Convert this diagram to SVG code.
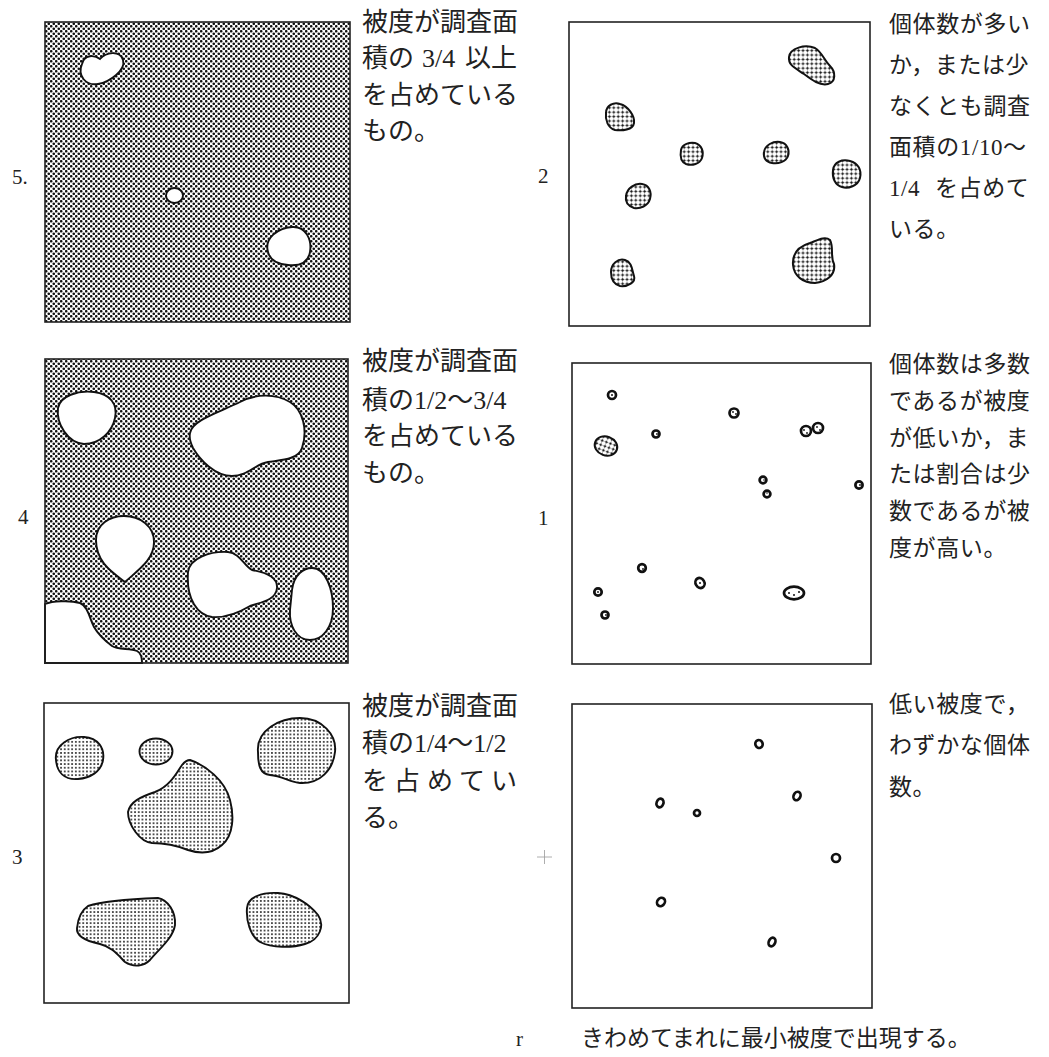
<svg xmlns="http://www.w3.org/2000/svg" width="1049" height="1057" viewBox="0 0 1049 1057">
<defs>
<pattern id="dense" width="5" height="5" patternUnits="userSpaceOnUse"><rect width="5" height="5" fill="#fff"/><circle cx="1.25" cy="1.25" r="1.3" fill="#111"/><circle cx="3.75" cy="3.75" r="1.3" fill="#111"/></pattern>
<pattern id="grid3" width="3.7" height="3.7" patternUnits="userSpaceOnUse"><rect width="3.7" height="3.7" fill="#fff"/><circle cx="1.85" cy="1.85" r="0.95" fill="#111"/></pattern>
<pattern id="grid2" width="4.4" height="4.4" patternUnits="userSpaceOnUse"><rect width="4.4" height="4.4" fill="#fff"/><path d="M0 2.2H4.4M2.2 0V4.4" stroke="#888" stroke-width="0.5"/><circle cx="2.2" cy="2.2" r="1.1" fill="#111"/></pattern>
<style>
.frame{fill:none;stroke:#222;stroke-width:1.6}
.hole{fill:#fff;stroke:#111;stroke-width:1.9}
.blob3{fill:url(#grid3);stroke:#111;stroke-width:1.9}
.blob2{fill:url(#grid2);stroke:#111;stroke-width:2}
.dot{fill:#fff;stroke:#111;stroke-width:2.7}
.in{fill:#111}
.tl{font-family:"Liberation Serif","Noto Sans CJK JP",serif;font-size:26px;fill:#222}
.tr{font-family:"Liberation Serif","Noto Sans CJK JP",serif;font-size:23px;letter-spacing:0.6px;fill:#222}
.num{font-family:"Liberation Serif",serif;font-size:21px;fill:#222}
</style>
</defs>
<rect width="1049" height="1057" fill="#fff"/>

<g id="panel5">
<rect x="45" y="22" width="305" height="300" fill="url(#dense)"/>
<path class="hole" d="M82,64 C84,54 95,55 100,59 C106,52 120,50 123,60 C126,70 110,82 98,84 C86,86 77,76 82,64 Z"/>
<ellipse class="hole" cx="174.5" cy="195.5" rx="8.5" ry="7.5"/>
<path class="hole" d="M268,252 C264,238 278,228 292,227 C306,226 312,240 310,252 C308,264 298,266 288,265 C276,264 270,260 268,252 Z"/>
<rect class="frame" x="45" y="22" width="305" height="300"/>
<text class="num" x="12" y="184">5.</text>
<text class="tl" x="362" y="31">被度が調査面</text>
<text class="tl" y="67"><tspan x="362">積の</tspan><tspan x="422">3/4</tspan><tspan x="465">以上</tspan></text>
<text class="tl" x="362" y="104">を占めている</text>
<text class="tl" x="362" y="140">もの。</text>
</g>

<g id="panel4">
<rect x="45" y="359" width="303" height="304" fill="url(#dense)"/>
<path class="hole" d="M58,408 C60,396 78,390 94,392 C110,394 118,404 115,418 C112,432 100,444 84,444 C68,443 56,424 58,408 Z"/>
<path class="hole" d="M190,433 C192,420 220,412 240,402 C255,394 275,393 290,402 C303,410 308,430 302,448 C298,460 280,460 268,462 C255,464 248,476 232,476 C215,476 200,460 193,448 C190,442 189,438 190,433 Z"/>
<path class="hole" d="M125,582 C112,572 96,562 96,540 C96,524 110,516 124,516 C140,516 154,526 154,542 C154,560 138,570 125,582 Z"/>
<path class="hole" d="M188,572 C190,558 210,551 228,552 C240,553 244,566 252,570 C264,572 278,576 277,588 C276,600 262,602 250,606 C240,612 225,618 212,617 C198,615 186,600 188,572 Z"/>
<path class="hole" d="M292,590 C294,574 304,568 312,568 C326,568 333,590 333,608 C333,628 322,640 310,640 C296,640 289,625 290,610 Z"/>
<path class="hole" d="M45,604 C52,601 70,600 80,603 C88,606 90,620 94,627 C98,634 104,640 112,646 C118,650 130,648 137,651 C141,653 142,658 142,663 L45,663 Z"/>
<rect class="frame" x="45" y="359" width="303" height="304"/>
<text class="num" x="18" y="524">4</text>
<text class="tl" x="362" y="370">被度が調査面</text>
<text class="tl" x="362" y="409">積の1/2〜3/4</text>
<text class="tl" x="362" y="445">を占めている</text>
<text class="tl" x="362" y="482">もの。</text>
</g>

<g id="panel3">
<rect x="44" y="703" width="305" height="300" fill="#fff"/>
<path class="blob3" d="M56,760 C54,745 70,736 84,737 C98,738 105,748 103,760 C101,772 90,778 78,779 C64,780 57,772 56,760 Z"/>
<ellipse class="blob3" cx="156" cy="751.5" rx="16.5" ry="13"/>
<path class="blob3" d="M190,760 C205,765 225,780 230,800 C234,815 234,835 222,845 C212,854 200,854 188,850 C178,846 165,843 152,843 C140,842 128,825 128,812 C130,802 140,797 155,792 C168,787 175,776 180,768 C183,763 186,760 190,760 Z"/>
<path class="blob3" d="M258,752 C256,730 280,718 300,718 C322,718 337,735 335,752 C333,770 320,784 300,783 C290,782 282,776 270,775 C260,774 258,765 258,752 Z"/>
<path class="blob3" d="M88,906 C100,902 130,899 158,898 C168,900 176,912 175,925 C173,938 160,948 150,960 C144,966 134,968 125,962 C118,955 112,947 100,944 C86,941 76,936 77,928 C78,918 82,910 88,906 Z"/>
<path class="blob3" d="M247,908 C248,897 262,892 278,893 C295,894 310,905 318,915 C325,925 320,940 305,944 C292,948 272,948 260,942 C250,936 246,920 247,908 Z"/>
<rect class="frame" x="44" y="703" width="305" height="300"/>
<text class="num" x="12" y="864">3</text>
<text class="tl" x="362" y="715">被度が調査面</text>
<text class="tl" x="362" y="752">積の1/4〜1/2</text>
<text class="tl" x="362 394 427 459 491" y="790">を占めてい</text>
<text class="tl" x="362" y="827">る。</text>
</g>

<g id="panel2">
<rect x="569" y="22" width="301" height="304" fill="#fff"/>
<path class="blob2" d="M789,57 C790,48 805,44 815,48 C822,52 824,60 830,66 C836,72 836,82 828,84 C820,86 812,80 804,74 C795,68 788,65 789,57 Z"/>
<path class="blob2" d="M606,113 C606,105 614,102 620,104 C628,106 635,116 634,123 C633,130 622,131 615,130 C608,128 605,120 606,113 Z"/>
<path class="blob2" d="M681,150 C682,144 690,142 695,143 C702,145 704,152 702,158 C700,164 692,166 686,164 C681,162 680,156 681,150 Z"/>
<path class="blob2" d="M764,152 C765,145 773,141 780,142 C787,143 790,150 788,156 C786,162 778,164 772,163 C766,162 763,158 764,152 Z"/>
<path class="blob2" d="M833,170 C834,162 842,159 850,161 C858,163 862,170 860,178 C858,186 848,189 842,187 C835,185 832,178 833,170 Z"/>
<path class="blob2" d="M626,196 C627,188 635,183 642,184 C649,185 652,192 650,199 C648,206 640,209 634,208 C628,206 625,202 626,196 Z"/>
<path class="blob2" d="M611,272 C611,264 618,258 625,260 C632,262 632,270 634,276 C636,282 628,287 620,286 C613,284 611,279 611,272 Z"/>
<path class="blob2" d="M793,265 C792,252 800,246 810,243 C818,240 825,236 830,240 C834,248 830,256 834,264 C836,275 826,282 815,283 C803,283 794,276 793,265 Z"/>
<rect class="frame" x="569" y="22" width="301" height="304"/>
<text class="num" x="538" y="183">2</text>
<text class="tr" x="889" y="32">個体数が多い</text>
<text class="tr" x="889" y="73">か，または少</text>
<text class="tr" x="889" y="114">なくとも調査</text>
<text class="tr" x="889" y="155">面積の1/10〜</text>
<text class="tr" y="196"><tspan x="889">1/4</tspan><tspan x="935">を占めて</tspan></text>
<text class="tr" x="889" y="237">いる。</text>
</g>

<g id="panel1">
<rect x="572" y="363" width="299" height="301" fill="#fff"/>
<circle class="dot" cx="612" cy="395" r="4"/><circle class="in" cx="612" cy="395" r="1"/>
<circle class="dot" cx="734" cy="413" r="4.5"/><circle class="in" cx="733" cy="412" r="0.9"/><circle class="in" cx="736" cy="414" r="0.9"/>
<circle class="dot" cx="656" cy="434" r="3.5"/><circle class="in" cx="657" cy="434" r="0.9"/>
<ellipse class="blob2" cx="606" cy="446" rx="11.5" ry="9.5" transform="rotate(20 606 446)"/>
<circle class="dot" cx="806" cy="431" r="5"/><circle class="dot" cx="818" cy="428" r="5"/>
<circle class="in" cx="804" cy="430" r="0.9"/><circle class="in" cx="807" cy="433" r="0.9"/><circle class="in" cx="817" cy="427" r="0.9"/><circle class="in" cx="820" cy="430" r="0.9"/>
<circle class="dot" cx="763" cy="480" r="3.4"/><circle class="in" cx="764" cy="480" r="0.8"/>
<circle class="dot" cx="767" cy="494" r="3.4"/><circle class="in" cx="767" cy="493" r="0.8"/>
<circle class="dot" cx="859" cy="485" r="3.6"/><circle class="in" cx="860" cy="485" r="0.9"/>
<circle class="dot" cx="642" cy="568" r="3.8"/><circle class="in" cx="643" cy="569" r="0.9"/>
<ellipse class="dot" cx="700" cy="583" rx="4.4" ry="5.2" transform="rotate(-30 700 583)"/><circle class="in" cx="700" cy="583" r="1"/>
<circle class="dot" cx="598" cy="592" r="3.7"/><circle class="in" cx="598" cy="592" r="0.9"/>
<circle class="dot" cx="605" cy="615" r="3.5"/><circle class="in" cx="606" cy="615" r="0.9"/>
<ellipse class="dot" cx="794" cy="593" rx="10" ry="6.3"/>
<circle class="in" cx="789" cy="593" r="1"/><circle class="in" cx="794" cy="595" r="1"/><circle class="in" cx="799" cy="592" r="1"/>
<rect class="frame" x="572" y="363" width="299" height="301"/>
<text class="num" x="538" y="525">1</text>
<text class="tr" x="889" y="372">個体数は多数</text>
<text class="tr" x="889" y="409">であるが被度</text>
<text class="tr" x="889" y="446">が低いか，ま</text>
<text class="tr" x="889" y="482">たは割合は少</text>
<text class="tr" x="889" y="519">数であるが被</text>
<text class="tr" x="889" y="556">度が高い。</text>
</g>

<g id="panelPlus">
<rect x="572" y="704" width="300" height="304" fill="#fff"/>
<ellipse class="dot" cx="759" cy="744" rx="3.6" ry="4" transform="rotate(-20 759 744)"/>
<ellipse class="dot" cx="660" cy="803" rx="3.4" ry="4.4" transform="rotate(20 660 803)"/>
<circle class="dot" cx="697" cy="813" r="3"/>
<ellipse class="dot" cx="797" cy="796" rx="3.4" ry="4.4" transform="rotate(25 797 796)"/>
<circle class="dot" cx="836" cy="858" r="4"/>
<ellipse class="dot" cx="661" cy="902" rx="3.7" ry="4.4" transform="rotate(40 661 902)"/>
<ellipse class="dot" cx="772" cy="942" rx="3.2" ry="4.5" transform="rotate(25 772 942)"/>
<rect class="frame" x="572" y="704" width="300" height="304"/>
<path d="M537,857H552M544.5,850V864" stroke="#999" stroke-width="0.8" fill="none"/>
<text class="tr" x="889" y="712">低い被度で，</text>
<text class="tr" x="889" y="753">わずかな個体</text>
<text class="tr" x="889" y="795">数。</text>
</g>

<g id="footer">
<text class="num" x="516" y="1046">r</text>
<text class="tr" x="581" y="1046" style="letter-spacing:0">きわめてまれに最小被度で出現する。</text>
</g>

<g id="connectors"></g>
</svg>
